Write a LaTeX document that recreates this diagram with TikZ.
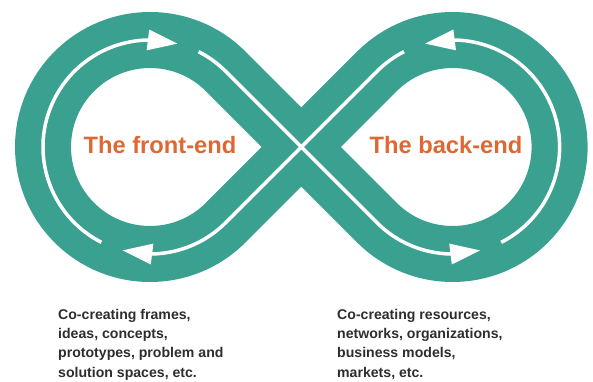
\documentclass[tikz,border=0pt]{standalone}
\usepackage{fontspec}
\setmainfont{Liberation Sans}
\usetikzlibrary{arrows.meta,bending,calc}
\definecolor{LoopTeal}{RGB}{58,160,143}
\definecolor{TitleOrange}{RGB}{222,104,52}
\definecolor{NoteGray}{RGB}{45,45,45}

\begin{document}
\begin{tikzpicture}[x=1pt, y=1pt,
    band/.style={draw=LoopTeal, line width=56pt, line join=round},
    flow/.style={draw=white, line width=3.5pt, -{Triangle[length=30pt,width=20pt]}},
    title/.style={text=TitleOrange, font=\fontsize{23.7}{26}\selectfont\bfseries, inner sep=0pt},
    note/.style={text=NoteGray, font=\fontsize{14.1}{19.3}\selectfont\bfseries, align=left, anchor=base west, inner sep=0pt}]
        \useasboundingbox (0,0) rectangle (593,381);

        % Centres of the two loops and the crossing
        \coordinate (L) at (150,234);
        \coordinate (R) at (452.6,234);
        \coordinate (X) at (301.3,234);

        % Infinity band
        \draw[band] (X) -- ($(L)+(45:107pt)$)
          arc[start angle=45, end angle=315, radius=107pt]
          -- ($(R)+(135:107pt)$)
          arc[start angle=135, end angle=-135, radius=107pt] -- cycle;

        % White flow arrows
        \draw[flow] ($(L)+(243:107pt)$) arc[start angle=243, end angle=75, radius=107pt];
        \draw[flow] ($(L)+(63:107pt)$) arc[start angle=63, end angle=45, radius=107pt]
          -- ($(R)+(225:107pt)$) arc[start angle=225, end angle=285, radius=107pt];
        \draw[flow] ($(R)+(-63:107pt)$) arc[start angle=-63, end angle=105, radius=107pt];
        \draw[flow] ($(R)+(117:107pt)$) arc[start angle=117, end angle=135, radius=107pt]
          -- ($(L)+(-45:107pt)$) arc[start angle=-45, end angle=-105, radius=107pt];

        % Loop titles
        \node[title, anchor=base] (front) at (160,228) {The front-end};
        \node[title, anchor=base] (back) at (446,228) {The back-end};

        % Notes below (anchored at the last baseline)
        \node[note] (frontnote) at (58,4)
          {Co-creating frames,\\ideas, concepts,\\prototypes, problem and\\solution spaces, etc.};
        \node[note] (backnote) at (337,4)
          {Co-creating resources,\\networks, organizations,\\business models,\\markets, etc.};
      \end{tikzpicture}
\end{document}
